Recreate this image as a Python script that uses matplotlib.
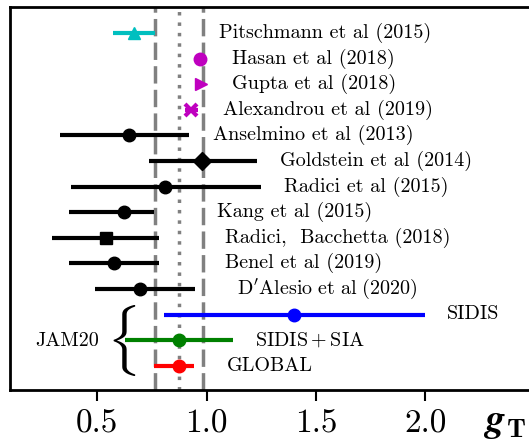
import matplotlib
matplotlib.use("Agg")
import matplotlib.pyplot as plt
import numpy as np

plt.rcParams['mathtext.fontset'] = 'cm'
plt.rcParams['font.family'] = ['cmr10', 'DejaVu Serif']
plt.rcParams['axes.formatter.use_mathtext'] = True

labels = ["Pitschmann et al (2015)", "Hasan et al (2018)", "Gupta et al (2018)",
          "Alexandrou et al (2019)", "Anselmino et al (2013)", "Goldstein et al (2014)",
          "Radici et al (2015)", "Kang et al (2015)", "Radici,  Bacchetta (2018)",
          "Benel et al (2019)", r"$\mathrm{D'Alesio\ et\ al\ (2020)}$",
          "SIDIS", r"$\mathrm{SIDIS}+\mathrm{SIA}$", "GLOBAL"]
centers = [0.667, 0.971, 0.976, 0.93, 0.645, 0.98, 0.81, 0.62, 0.54, 0.575, 0.695, 1.40, 0.875, 0.875]
lows    = [0.57, 0.95, 0.97, 0.90, 0.33, 0.736, 0.38, 0.37, 0.29, 0.37, 0.49, 0.805, 0.625, 0.76]
highs   = [0.764, 0.995, 0.985, 0.96, 0.92, 1.23, 1.25, 0.76, 0.78, 0.78, 0.945, 2.0, 1.12, 0.94]
label_x = [1.058, 1.114, 1.118, 1.077, 1.031, 1.335, 1.353, 1.049, 1.082, 1.082, 1.141, 2.10, 1.22, 1.095]
markers = ['^', 'o', '>', 'x', 'o', 'D', 'o', 'o', 's', 'o', 'o', 'o', 'o', 'o']
colors  = ['c', 'm', 'm', 'm', 'k', 'k', 'k', 'k', 'k', 'k', 'k', 'b', 'g', 'r']
band_lo, band_mid, band_hi = 0.764, 0.875, 0.985
xticks = [0.5, 1.0, 1.5, 2.0]

fig = plt.figure(figsize=(5.29, 4.43), dpi=100)
ax = fig.add_axes([10/529, 1-390/443, 1-10/529+0.01, (390-7)/443])

for xv, ls in [(band_lo, (0, (5, 1.8))), (band_mid, (0, (1, 2))), (band_hi, (0, (5, 1.8)))]:
    ax.axvline(xv, color='gray', ls=ls, lw=2.5, zorder=1)

for i, (c, lo, hi, m, col) in enumerate(zip(centers, lows, highs, markers, colors)):
    ax.errorbar([c], [i], xerr=[[c-lo], [hi-c]], fmt=m, color=col, ms=9 if m != 'x' else 8,
                mew=3 if m == 'x' else 1, lw=3, capsize=0, zorder=3)
    ax.text(label_x[i], i, labels[i], fontsize=14.5, ha='left', va='center', zorder=4)

ax.text(0.215, 12.05, "JAM20", fontsize=14.5, ha='left', va='center')
ax.text(0.607, 12.0, r"$\{$", fontsize=43, ha='center', va='center')

ax.set_xlim(0.1, 2.5)
ax.set_ylim(13.95, -1.02)
ax.set_yticks([])
ax.set_xticks(xticks)
ax.set_xticklabels(["0.5", "1.0", "1.5", "2.0"])
ax.tick_params(axis='x', direction='out', length=8, width=1.5, labelsize=24, pad=6)
for s in ax.spines.values():
    s.set_linewidth(2)
fig.text(483/529, 1-423/443, r"$\boldsymbol{g}_{\mathbf{T}}$", fontsize=28, ha='left', va='center')

fig.savefig("out.png", dpi=100)
